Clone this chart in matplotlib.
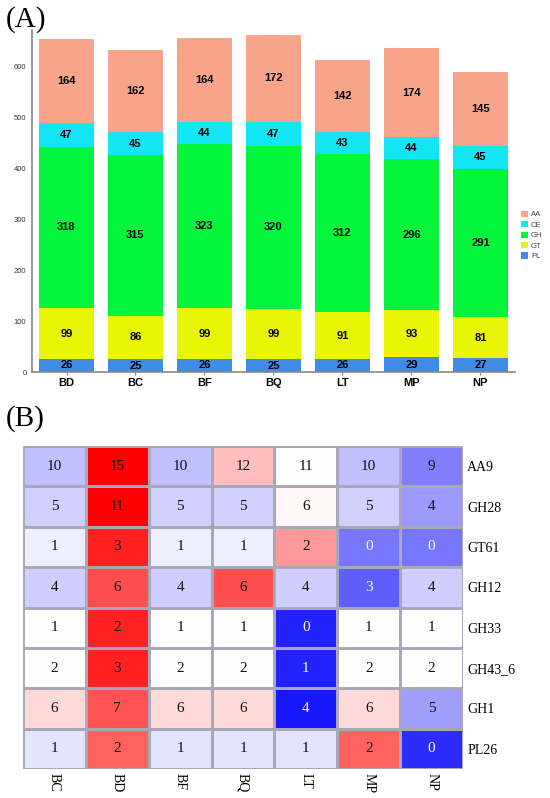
import numpy as np
import matplotlib.pyplot as plt
from matplotlib.colors import LinearSegmentedColormap, Normalize

# ---- donnees panneau A : barres empilees ----
sites = ['BD', 'BC', 'BF', 'BQ', 'LT', 'MP', 'NP']
familles = ['PL', 'GT', 'GH', 'CE', 'AA']
pl = [26, 25, 26, 25, 26, 29, 27]
gt = [99, 86, 99, 99, 91, 93, 81]
gh = [318, 315, 323, 320, 312, 296, 291]
ce = [47, 45, 44, 47, 43, 44, 45]
aa = [164, 162, 164, 172, 142, 174, 145]
couleurs = {'AA': '#F8A48A', 'CE': '#12E6F5', 'GH': '#05F53C',
            'GT': '#E8F505', 'PL': '#3F8BE6'}

# ---- donnees panneau B : heatmap ----
colonnes = ['BC', 'BD', 'BF', 'BQ', 'LT', 'MP', 'NP']
lignes = ['AA9', 'GH28', 'GT61', 'GH12', 'GH33', 'GH43_6', 'GH1', 'PL26']
aa9 = [10, 15, 10, 12, 11, 10, 9]
gh28 = [5, 11, 5, 5, 6, 5, 4]
gt61 = [1, 3, 1, 1, 2, 0, 0]
gh12 = [4, 6, 4, 6, 4, 3, 4]
gh33 = [1, 2, 1, 1, 0, 1, 1]
gh43_6 = [2, 3, 2, 2, 1, 2, 2]
gh1 = [6, 7, 6, 6, 4, 6, 5]
pl26 = [1, 2, 1, 1, 1, 2, 0]

fig = plt.figure(figsize=(5.5, 7.98), dpi=100)

# ==================== (A) ====================
ax = fig.add_axes([0.0582, 0.5338, 0.878, 0.4286])
x = np.arange(len(sites))
series = {'PL': pl, 'GT': gt, 'GH': gh, 'CE': ce, 'AA': aa}
bas = np.zeros(len(sites))
for fam in familles:
    vals = np.array(series[fam])
    ax.bar(x, vals, 0.8, bottom=bas, color=couleurs[fam], label=fam)
    for xi, b, v in zip(x, bas, vals):
        ax.text(xi, b + v / 2, str(v), ha='center', va='center',
                fontsize=8, fontweight='bold', family='Liberation Sans')
    bas += vals

ax.set_xlim(-0.5, 6.5)
ax.set_ylim(0, 672)
ax.set_xticks(x)
ax.set_xticklabels(sites, fontweight='bold', fontsize=8, family='Liberation Sans')
ax.set_yticks([0, 100, 200, 300, 400, 500, 600])
ax.tick_params(axis='y', labelsize=5.5, labelcolor='#333333', length=0, pad=4)
ax.tick_params(axis='x', length=2, color='#888888', pad=2)
for lbl in ax.get_yticklabels():
    lbl.set_family('Liberation Sans')
for s in ['top', 'right']:
    ax.spines[s].set_visible(False)
for s in ['left', 'bottom']:
    ax.spines[s].set_color('#888888')
    ax.spines[s].set_linewidth(1.2)

h, l = ax.get_legend_handles_labels()
leg = fig.legend(h[::-1], l[::-1], loc='center left', bbox_to_anchor=(0.935, 0.705),
                 frameon=False, handlelength=0.9, handleheight=0.9,
                 handletextpad=0.4, labelspacing=0.35,
                 prop={'family': 'Liberation Sans', 'size': 5.5})
for t in leg.get_texts():
    t.set_color('#444444')

fig.text(0.01, 0.992, '(A)', fontsize=21, family='Liberation Serif', va='top')

# ==================== (B) ====================
mat = np.array([aa9, gh28, gt61, gh12, gh33, gh43_6, gh1, pl26], dtype=float)
z = (mat - mat.mean(axis=1, keepdims=True)) / mat.std(axis=1, ddof=1, keepdims=True)
cmap = LinearSegmentedColormap.from_list('bwr2', ['#0000FF', '#FFFFFF', '#FF0000'])
norm = Normalize(-2.0, 2.0, clip=True)

axh = fig.add_axes([23 / 550, 1 - 769 / 798, 440 / 550, 323 / 798])
axh.pcolormesh(z, cmap=cmap, norm=norm, edgecolors='#A8A8B8', linewidth=1.0)
axh.set_xlim(0, 7)
axh.set_ylim(8, 0)
for i in range(mat.shape[0]):
    for j in range(mat.shape[1]):
        coul = 'white' if z[i, j] < -1.05 else '#111111'
        axh.text(j + 0.5, i + 0.5, '%d' % mat[i, j], ha='center', va='center',
                 fontsize=11, color=coul, family='Liberation Serif')
axh.set_xticks(np.arange(7) + 0.5)
axh.set_xticklabels(colonnes, rotation=270, fontsize=10, family='Liberation Serif')
axh.yaxis.tick_right()
axh.set_yticks(np.arange(8) + 0.5)
axh.set_yticklabels(lignes, fontsize=10, family='Liberation Serif')
axh.tick_params(length=0, pad=3)
for s in axh.spines.values():
    s.set_visible(False)

fig.text(0.01, 0.492, '(B)', fontsize=21, family='Liberation Serif', va='top')

plt.savefig('out.png', dpi=100)
